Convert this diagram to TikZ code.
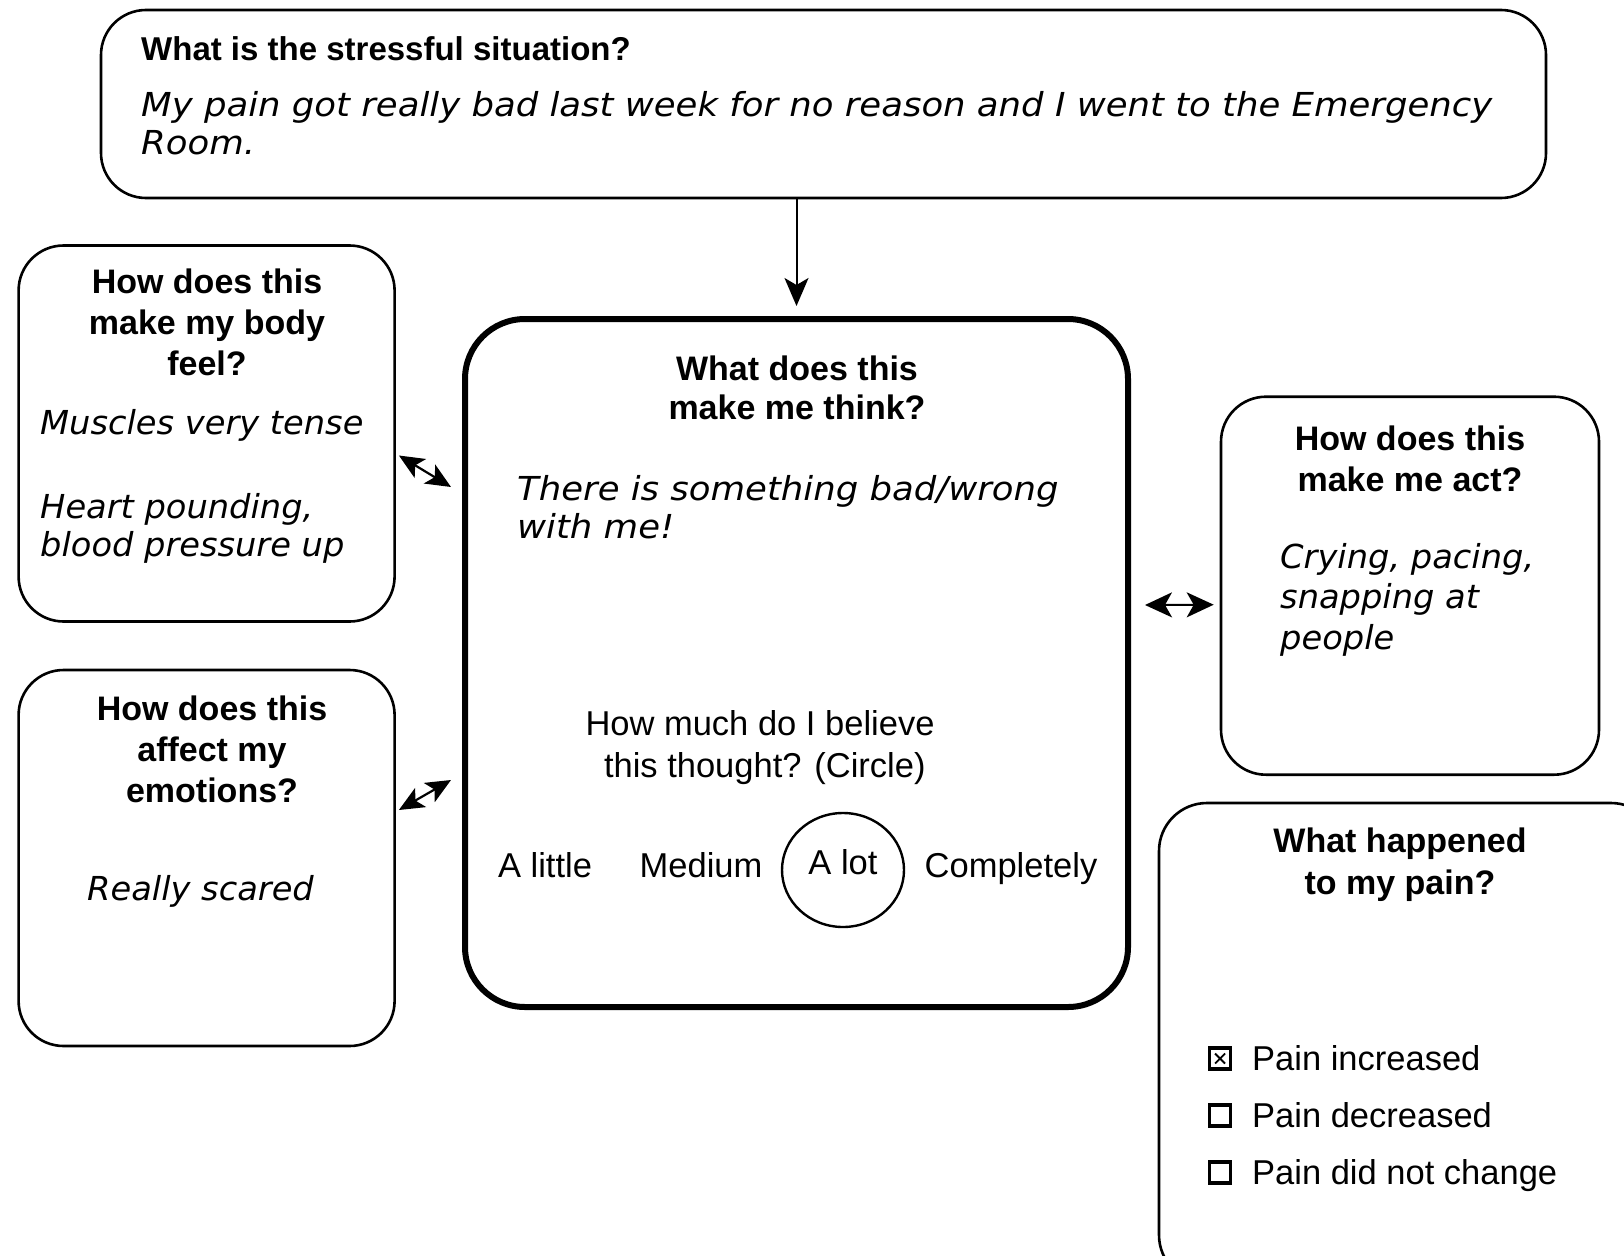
\documentclass[tikz,border=0pt]{standalone}
\usepackage{fontspec}
\setmainfont{Liberation Sans}
\newfontfamily\handfont{DejaVu Sans}[FakeStretch=1.02]
\newfontfamily\handwide{DejaVu Sans}[FakeStretch=1.075]
\usetikzlibrary{arrows.meta,calc,shapes.geometric}
\newcommand\lns[2]{\begin{tabular}[t]{@{}#1@{}}#2\end{tabular}}
\begin{document}
\begin{tikzpicture}[x=1pt,y=-1pt,
  box/.style={draw, rounded corners=45pt, line width=2.6pt, inner sep=0pt},
  head/.style={font=\fontsize{34}{41}\selectfont\bfseries, inner sep=0pt, anchor=base},
  hand/.style={font=\handfont\itshape\fontsize{33}{38}\selectfont, inner sep=0pt, anchor=base west},
  plain/.style={font=\fontsize{34.5}{42}\selectfont, inner sep=0pt, anchor=base},
  cbox/.style={draw, line width=3.2pt, minimum size=21pt, inner sep=0pt},
  dbl/.style={{Stealth[length=25pt,width=22pt,inset=6pt]}-{Stealth[length=25pt,width=22pt,inset=6pt]}, line width=2.2pt},
  dblw/.style={{Stealth[length=27pt,width=25pt,inset=7pt]}-{Stealth[length=27pt,width=25pt,inset=7pt]}, line width=2pt},
  one/.style={-{Stealth[length=28pt,width=24pt,inset=7pt]}, line width=2pt}]
\useasboundingbox (0,0) rectangle (1624,1255);
\fill[white] (0,0) rectangle (1624,1255);
\clip (0,0) rectangle (1624,1255);

% boxes
\node[box, minimum width=1445pt, minimum height=188pt] (top) at (823.5,104) {};
\node[box, rounded corners=60pt, line width=6pt, minimum width=663pt, minimum height=688pt] (ctr) at (796.5,663) {};
\node[box, minimum width=376pt, minimum height=376pt] (lt) at (206.6,433.5) {};
\node[box, minimum width=376pt, minimum height=376pt] (lb) at (206.6,858) {};
\node[box, minimum width=378pt, minimum height=378pt] (rt) at (1410,585.7) {};
\node[box, rounded corners=48pt, minimum width=500pt, minimum height=480pt] (rb) at (1409,1043) {};

% top box
\node[head, anchor=base west, font=\fontsize{33}{40}\selectfont\bfseries] (toph) at (141,60) {What is the stressful situation?};
\node[hand, font=\handwide\itshape\fontsize{33}{38}\selectfont] (topt) at (141,116) {\lns{l}{My pain got really bad last week for no reason and I went to the Emergency\\Room.}};

% left top
\node[head] (lth) at (207,293) {\lns{c}{How does this\\make my body\\feel?}};
\node[hand] (ltt1) at (40,434) {Muscles very tense};
\node[hand] (ltt2) at (40,518) {\lns{l}{Heart pounding,\\blood pressure up}};

% left bottom
\node[head] (lbh) at (212,720) {\lns{c}{How does this\\affect my\\emotions?}};
\node[hand] (lbt) at (87,900) {Really scared};

% center
\node[head, font=\fontsize{34}{39.5}\selectfont\bfseries] (ch) at (797,380) {\lns{c}{What does this\\make me think?}};
\node[hand, font=\handwide\itshape\fontsize{33}{38}\selectfont] (ct) at (517,500) {\lns{l}{There is something bad/wrong\\with me!}};
\node[plain] (cq) at (760,735) {\lns{c}{How much do I believe\\\ this thought? (Circle)}};
\node[plain] (s1) at (545,877) {A little};
\node[plain] (s2) at (701,877) {Medium};
\node[plain] (s3) at (843,874) {A lot};
\node[plain] (s4) at (1011,877) {Completely};
\node[draw, ellipse, line width=2.4pt, minimum width=122pt, minimum height=114pt, inner sep=0pt] (circ) at (843,870) {};

% right top
\node[hand, font=\handfont\itshape\fontsize{33}{40.5}\selectfont] (rtt) at (1280,568) {\lns{l}{Crying, pacing,\\snapping at\\people}};
\node[head] (rth) at (1410,450) {\lns{c}{How does this\\make me act?}};

% right bottom
\node[head, font=\fontsize{34}{42}\selectfont\bfseries] (rbh) at (1400,852) {\lns{c}{What happened\\to my pain?}};
\node[cbox] (cb1) at (1220,1058.5) {};
\draw[line width=1.8pt] ($(cb1.center)+(-5,-5)$) -- ($(cb1.center)+(5,5)$)
                        ($(cb1.center)+(-5,5)$) -- ($(cb1.center)+(5,-5)$);
\node[cbox] (cb2) at (1220,1115.5) {};
\node[cbox] (cb3) at (1220,1172.5) {};
\node[plain, anchor=base west] (p1) at (1252,1070) {Pain increased};
\node[plain, anchor=base west] (p2) at (1252,1127) {Pain decreased};
\node[plain, anchor=base west] (p3) at (1252,1184) {Pain did not change};

% connectors
\draw[one, shorten >=10pt] (top.south -| ctr.north) -- (ctr.north);
\coordinate (a1s) at ($(lt.east)+(3,22)$);
\coordinate (a1e) at ($(ctr.west)+(-11,-176)$);
\draw[dbl] (a1s) -- (a1e);
\coordinate (a2s) at ($(lb.east)+(3,-48)$);
\coordinate (a2e) at ($(ctr.west)+(-11,117)$);
\draw[dbl] (a2s) -- (a2e);
\coordinate (a3s) at ($(ctr.east)+(14,-58)$);
\coordinate (a3e) at ($(rt.west)+(-6,19)$);
\draw[dblw] (a3s) -- (a3e);
\end{tikzpicture}
\end{document}
